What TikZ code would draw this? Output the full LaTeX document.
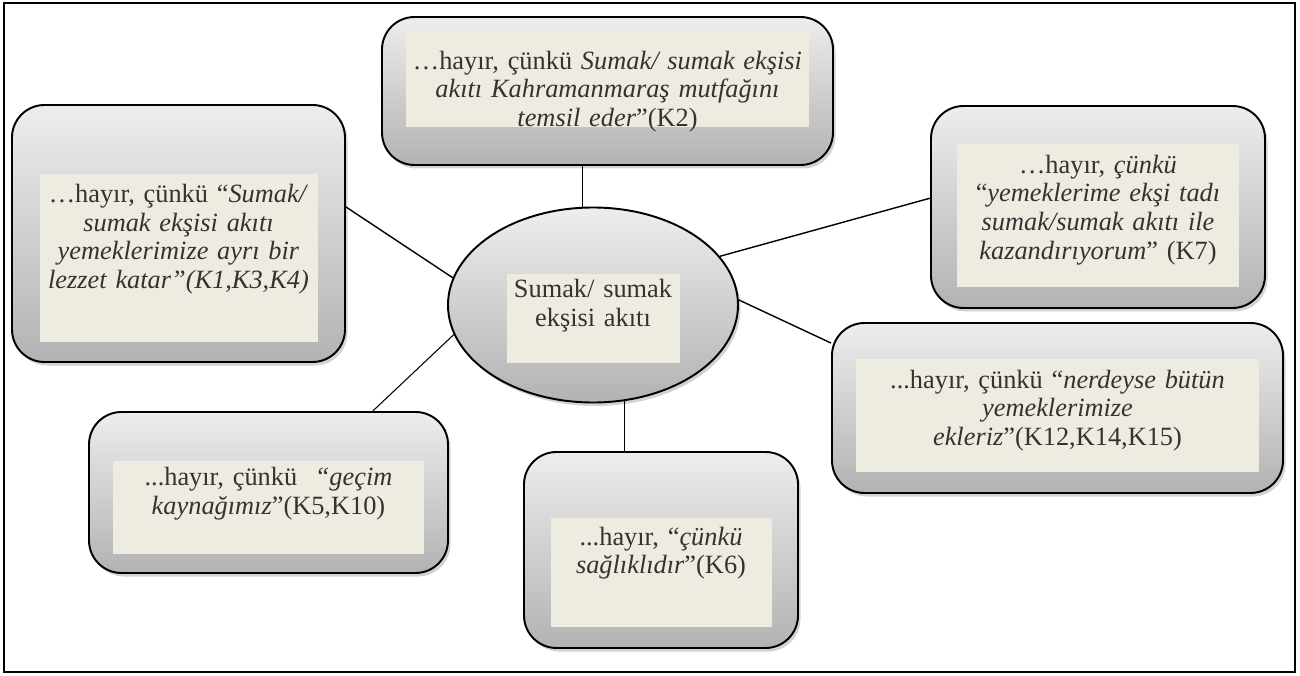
\documentclass[tikz,border=0pt]{standalone}
\usepackage{fontspec}
\setmainfont{Liberation Serif}
\usepackage{tikz}
\usetikzlibrary{shapes,positioning,shadows}
\definecolor{notebg}{HTML}{EEECE1}
\definecolor{inkgray}{HTML}{333333}

\begin{document}
\begin{tikzpicture}[
    card/.style={rectangle, rounded corners=0.65cm, draw, line width=1.1pt, top color=black!7, bottom color=black!30,
        drop shadow={shadow xshift=0.05cm, shadow yshift=-0.07cm, opacity=0.35}},
    hub/.style={ellipse, draw, line width=1.1pt, inner sep=0pt, top color=black!7, bottom color=black!30,
        drop shadow={shadow xshift=0.05cm, shadow yshift=-0.07cm, opacity=0.35}},
    note/.style={rectangle, fill=notebg, text=inkgray, align=center, inner xsep=0.1cm, inner ysep=0.1cm,
        font=\fontsize{15}{16.3}\selectfont},
    link/.style={line width=0.8pt}
]

\useasboundingbox (0,0) rectangle (26,13.5);
\draw[line width=0.8pt] (0.08,0.06) rectangle (25.9,13.44);

\node[hub, minimum width=5.8cm, minimum height=3.9cm] (c) at (11.86,7.4) {};
\node[note, below=1.34cm of c.north, minimum width=3.46cm, minimum height=1.78cm, text width=3.26cm, text depth=34pt] (tc)
    {Sumak/ sumak\\ekşisi akıtı};

\node[card, minimum width=9.02cm, minimum height=2.96cm] (k2) at (12.15,11.68) {};
\node[note, below=0.32cm of k2.north, minimum width=8.06cm, minimum height=1.9cm, text width=7.86cm, text depth=22.5pt] (t2)
    {…hayır, çünkü \textit{Sumak/ sumak ekşisi}\\\textit{akıtı Kahramanmaraş mutfağını}\\\textit{temsil eder}”(K2)};

\node[card, minimum width=6.66cm, minimum height=5.14cm] (k1) at (3.57,8.83) {};
\node[note, below=1.4cm of k1.north, minimum width=5.56cm, minimum height=3.36cm, text width=5.36cm, text depth=74pt] (t1)
    {…hayır, çünkü “\textit{Sumak/}\\\textit{sumak ekşisi akıtı}\\\textit{yemeklerimize ayrı bir}\\\textit{lezzet katar”(K1,K3,K4)}};

\node[card, minimum width=6.68cm, minimum height=4.04cm] (k7) at (21.96,9.36) {};
\node[note, below=0.78cm of k7.north, minimum width=5.64cm, minimum height=2.86cm, text width=5.44cm, text depth=59pt] (t7)
    {…hayır, \textit{çünkü}\\“\textit{yemeklerime ekşi tadı}\\\textit{sumak/sumak akıtı ile}\\\textit{kazandırıyorum}” (K7)};

\node[card, minimum width=9.02cm, minimum height=3.4cm] (k12) at (21.15,5.34) {};
\node[note, below=0.74cm of k12.north, minimum width=8.06cm, minimum height=2.26cm, text width=7.86cm, text depth=42pt] (t12)
    {...hayır, çünkü “\textit{nerdeyse bütün}\\\textit{yemeklerimize}\\\textit{ekleriz}”(K12,K14,K15)};

\node[card, minimum width=7.18cm, minimum height=3.22cm] (k5) at (5.37,3.65) {};
\node[note, below=1.0cm of k5.north, minimum width=6.22cm, minimum height=1.86cm, text width=6.02cm, text depth=36pt] (t5)
    {...hayır, çünkü \ \textit{“geçim}\\\textit{kaynağımız}”(K5,K10)};

\node[card, minimum width=5.48cm, minimum height=3.92cm] (k6) at (13.22,2.5) {};
\node[note, below=1.34cm of k6.north, minimum width=4.42cm, minimum height=2.18cm, text width=4.22cm, text depth=42pt] (t6)
    {...hayır, “\textit{çünkü}\\\textit{sağlıklıdır}”(K6)};

\draw[link] (c.96) -- (c.96 |- k2.south);
\draw[link] (k1.9) -- (c.169);
\draw[link] (c.21) -- (k7.177);
\draw[link] (c.2) -- (k12.164);
\draw[link, line width=0.6pt] (k5.38) -- (c.192);
\draw[link] (c.-72) -- (c.-72 |- k6.north);

\end{tikzpicture}
\end{document}
